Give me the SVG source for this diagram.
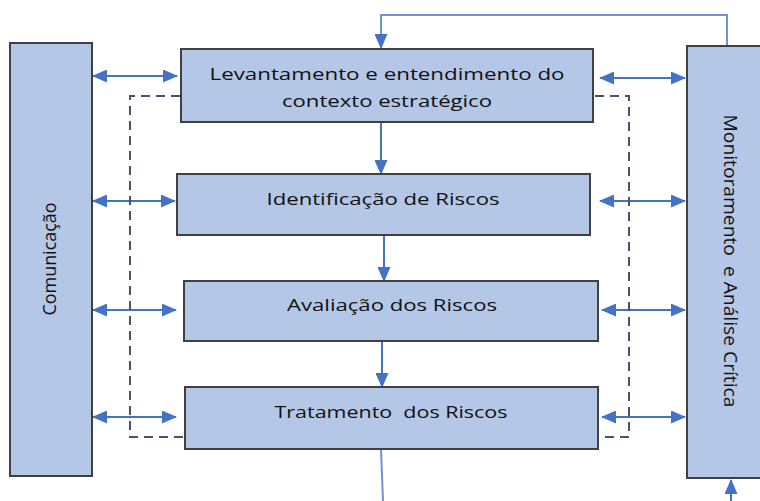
<svg xmlns="http://www.w3.org/2000/svg" width="760" height="501" viewBox="0 0 760 501">
<style>
.box{fill:#B4C7E7;stroke:#404040;stroke-width:2}
.lbl{font-family:"Open Sans","DejaVu Sans",sans-serif;font-size:17px;fill:#111}
.big{font-size:18.5px}
.arr{stroke:#4472C4;stroke-width:2;fill:none}
.thin{stroke:#6F93D6;stroke-width:2;fill:none}
.dash{stroke:#44546A;stroke-width:2;fill:none;stroke-dasharray:9 6}
</style>
<defs>
<marker id="ah" markerUnits="userSpaceOnUse" markerWidth="15" markerHeight="13" refX="14" refY="6.5" orient="auto-start-reverse">
<path d="M0,0 L15,6.5 L0,13 z" fill="#4472C4"/>
</marker>
</defs>
<rect width="760" height="501" fill="#fff"/>
<g id="connectors">
<path class="thin" d="M727,46 V15 H381 V48" marker-end="url(#ah)"/>
<line class="arr" x1="381" y1="122" x2="381" y2="174" marker-end="url(#ah)"/>
<line class="arr" x1="384" y1="235" x2="384" y2="281" marker-end="url(#ah)"/>
<line class="arr" x1="382" y1="341" x2="382" y2="387" marker-end="url(#ah)"/>
<line class="thin" x1="381" y1="449" x2="383" y2="501"/>
<line class="arr" x1="731" y1="501" x2="731" y2="480" marker-end="url(#ah)"/>
<line class="arr" x1="93" y1="76" x2="177" y2="76" marker-start="url(#ah)" marker-end="url(#ah)"/>
<line class="arr" x1="93" y1="201" x2="175" y2="201" marker-start="url(#ah)" marker-end="url(#ah)"/>
<line class="arr" x1="93" y1="310" x2="176" y2="310" marker-start="url(#ah)" marker-end="url(#ah)"/>
<line class="arr" x1="93" y1="417" x2="176" y2="417" marker-start="url(#ah)" marker-end="url(#ah)"/>
<line class="arr" x1="600" y1="78" x2="685" y2="78" marker-start="url(#ah)" marker-end="url(#ah)"/>
<line class="arr" x1="600" y1="201" x2="685" y2="201" marker-start="url(#ah)" marker-end="url(#ah)"/>
<line class="arr" x1="602" y1="310" x2="685" y2="310" marker-start="url(#ah)" marker-end="url(#ah)"/>
<line class="arr" x1="602" y1="417" x2="685" y2="417" marker-start="url(#ah)" marker-end="url(#ah)"/>
<path class="dash" d="M180,96 H130 V437 H184"/>
<path class="dash" d="M595,96 H629 V437 H599"/>
</g>
<g id="comunicacao">
<rect class="box" x="10" y="43" width="82" height="433"/>
<text class="lbl big" transform="translate(56,259) rotate(-90)" text-anchor="middle" textLength="113" lengthAdjust="spacingAndGlyphs">Comunicação</text>
</g>
<g id="monitoramento">
<rect class="box" x="687" y="46" width="90" height="432"/>
<text class="lbl big" transform="translate(724,261) rotate(90)" text-anchor="middle" textLength="293" lengthAdjust="spacingAndGlyphs" xml:space="preserve">Monitoramento  e Análise Crítica</text>
</g>
<g id="levantamento">
<rect class="box" x="181" y="49" width="412" height="73"/>
<text class="lbl" x="387" y="80" text-anchor="middle" textLength="355" lengthAdjust="spacingAndGlyphs">Levantamento e entendimento do</text>
<text class="lbl" x="387" y="107" text-anchor="middle" textLength="210" lengthAdjust="spacingAndGlyphs">contexto estratégico</text>
</g>
<g id="identificacao">
<rect class="box" x="177" y="174" width="413" height="61"/>
<text class="lbl" x="383" y="205" text-anchor="middle" textLength="233" lengthAdjust="spacingAndGlyphs">Identificação de Riscos</text>
</g>
<g id="avaliacao">
<rect class="box" x="184" y="281" width="414" height="60"/>
<text class="lbl" x="392" y="311" text-anchor="middle" textLength="210" lengthAdjust="spacingAndGlyphs">Avaliação dos Riscos</text>
</g>
<g id="tratamento">
<rect class="box" x="185" y="387" width="413" height="62"/>
<text class="lbl" x="391" y="418" text-anchor="middle" textLength="233" lengthAdjust="spacingAndGlyphs" xml:space="preserve">Tratamento  dos Riscos</text>
</g>
</svg>
